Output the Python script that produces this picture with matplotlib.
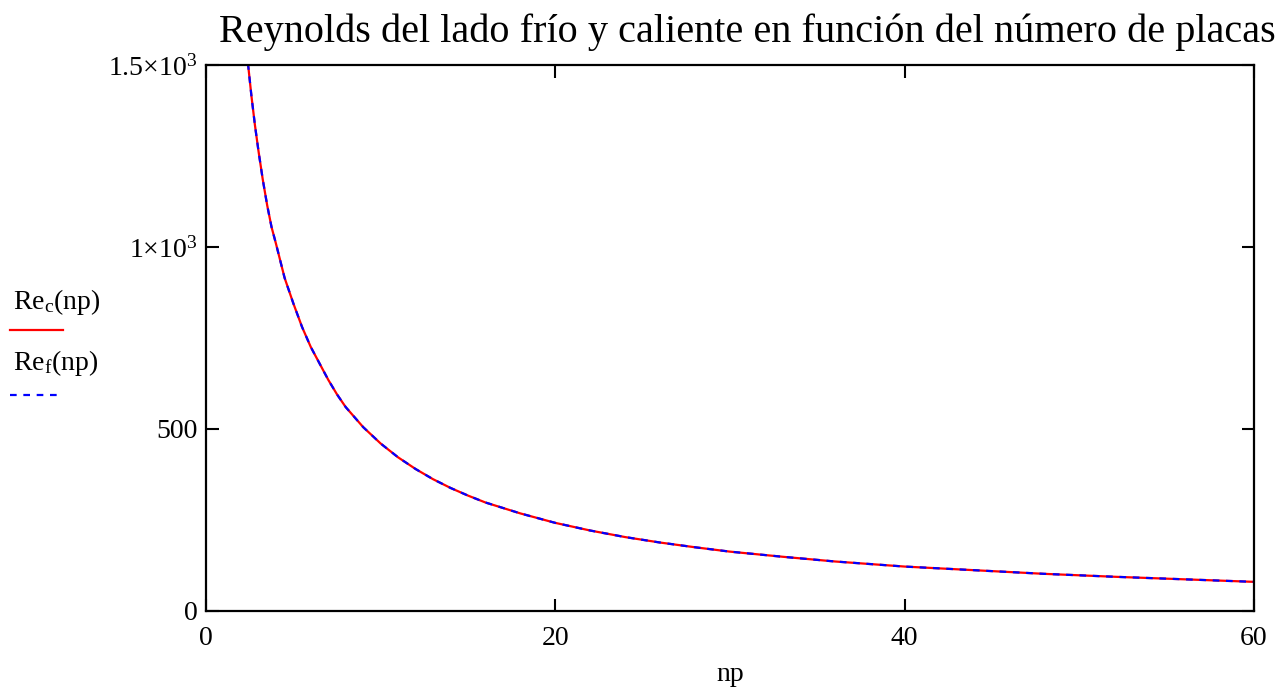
import numpy as np
import matplotlib
matplotlib.use("Agg")
import matplotlib.pyplot as plt
from matplotlib.lines import Line2D

plt.rcParams['font.family'] = ['Liberation Serif', 'DejaVu Serif']
plt.rcParams['mathtext.fontset'] = 'custom'
plt.rcParams['mathtext.rm'] = 'Liberation Serif'
plt.rcParams['mathtext.it'] = 'Liberation Serif:italic'

# number of plates
n_plates = [2.4, 2.6, 2.8, 3.0, 3.25, 3.5, 3.75, 4.0, 4.5, 5.0, 5.5, 6.0, 6.5,
            7.0, 7.5, 8.0, 9.0, 10.0, 11.0, 12.0, 13.0, 14.0, 15.0, 16.0,
            18.0, 20.0, 22.0, 24.0, 26.0, 28.0, 30.0, 33.0, 36.0, 40.0,
            44.0, 48.0, 52.0, 56.0, 60.0]

# Reynolds hot side
re_c = [1505, 1415, 1335, 1265, 1185, 1115, 1055, 1010, 915, 845, 780, 725,
        680, 635, 595, 560, 505, 460, 422, 390, 362, 338, 317, 298, 268, 242,
        221, 203, 188, 175, 163, 149, 136, 122, 112, 102, 94, 87, 80]

# Reynolds cold side
re_f = [1505, 1415, 1335, 1265, 1185, 1115, 1055, 1010, 915, 845, 780, 725,
        680, 635, 595, 560, 505, 460, 422, 390, 362, 338, 317, 298, 268, 242,
        221, 203, 188, 175, 163, 149, 136, 122, 112, 102, 94, 87, 80]

x_ticks = [0, 20, 40, 60]
y_ticks = [0, 500, 1000, 1500]
y_tick_labels = ['0', '500', r'$1{\times}10^{3}$', r'$1.5{\times}10^{3}$']

fig = plt.figure(figsize=(12.86, 6.95), dpi=100)
ax = fig.add_axes([0.1602, 0.1209, 0.8149, 0.7856])

ax.plot(n_plates, re_c, color='red', lw=1.6, solid_capstyle='butt')
ax.plot(n_plates, re_f, color='blue', lw=1.6, ls=(0, (3, 3)))

ax.set_xlim(0, 60)
ax.set_ylim(0, 1500)
ax.set_xticks(x_ticks)
ax.set_yticks(y_ticks)
ax.set_xticklabels([str(t) for t in x_ticks])
ax.set_yticklabels(y_tick_labels)
ax.tick_params(direction='in', length=9, width=1.5, labelsize=20,
               top=True, right=True, labeltop=False, labelright=False)
ax.tick_params(axis='x', pad=11)
ax.tick_params(axis='y', pad=6)
for s in ax.spines.values():
    s.set_linewidth(1.6)

ax.set_xlabel('np', fontsize=20, labelpad=8)
fig.text(0.581, 0.953, u'Reynolds del lado fr\u00edo y caliente en funci\u00f3n del n\u00famero de placas',
         ha='center', va='center', fontsize=29)

# legend on the left, Mathcad style
fig.text(0.010, 0.565, r'$\mathrm{Re}_{\mathrm{c}}(\mathrm{np})$', fontsize=20, ha='left', va='center')
fig.add_artist(Line2D([0.008, 0.049], [0.525, 0.525], transform=fig.transFigure,
                      color='red', lw=1.6))
fig.text(0.010, 0.478, r'$\mathrm{Re}_{\mathrm{f}}(\mathrm{np})$', fontsize=20, ha='left', va='center')
fig.add_artist(Line2D([0.008, 0.049], [0.432, 0.432], transform=fig.transFigure,
                      color='blue', lw=1.6, ls=(0, (3, 3))))

fig.savefig('out.png', dpi=100)
